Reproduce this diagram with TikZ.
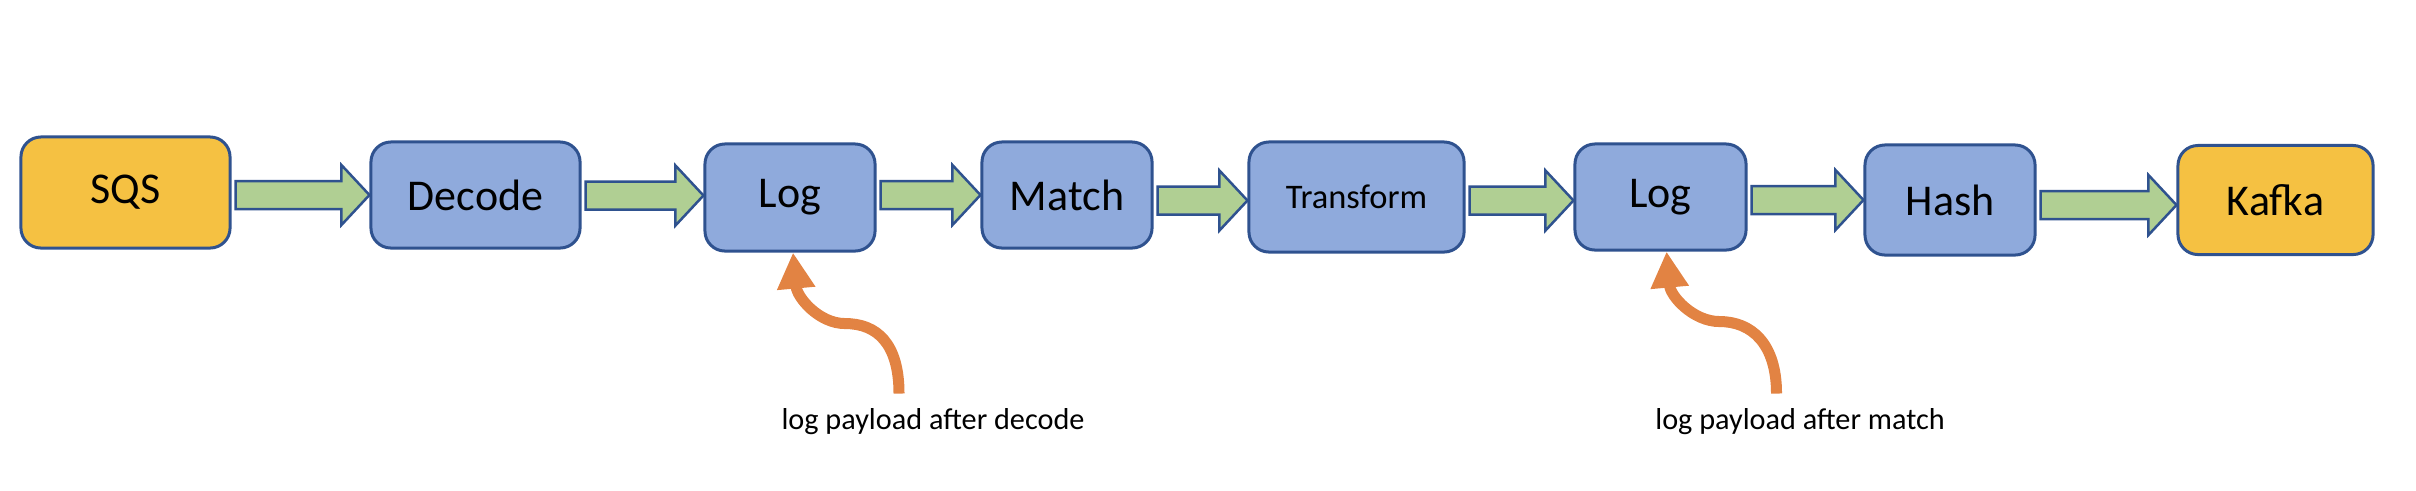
\documentclass[tikz,border=0pt]{standalone}
\usepackage{fontspec}
\setmainfont{Carlito}
\usepackage{tikz}
\usetikzlibrary{arrows.meta,calc}

\definecolor{stageblue}{HTML}{8FAADC}
\definecolor{edgeblue}{HTML}{2F528F}
\definecolor{endgold}{HTML}{F5C142}
\definecolor{pipegreen}{HTML}{B0CF93}
\definecolor{noteorange}{HTML}{E28343}

\newcommand{\flowpipe}[3]{%
  \coordinate (pt) at ([shift={(0,#3)}]#2.west);
  \coordinate (ps) at ($(#1.east |- pt)+(4,0)$);
  \filldraw[pipe arrow] ($(ps)+(0,-14)$) -- ($(pt)+(-28,-14)$) -- ($(pt)+(-28,-30)$) -- (pt)
    -- ($(pt)+(-28,30)$) -- ($(pt)+(-28,14)$) -- ($(ps)+(0,14)$) -- cycle;
}

\begin{document}
\begin{tikzpicture}[
                    x=0.01cm,
                    y=-0.01cm
                ]
                \tikzstyle{stage}=[draw=edgeblue,line width=0.03cm,fill=stageblue,rounded corners=0.2cm,minimum width=1.7cm,minimum height=1.07cm,font=\fontsize{12.5}{15}\selectfont]
                \tikzstyle{endpoint}=[stage,fill=endgold]
                \tikzstyle{pipe arrow}=[draw=edgeblue,line width=0.025cm,fill=pipegreen,line join=miter]
                \tikzstyle{note arrow}=[draw=noteorange,line width=0.11cm,-{Triangle[width=0.36cm,length=0.36cm]}]
                \tikzstyle{note}=[font=\fontsize{8.6}{10}\selectfont]

                \useasboundingbox (0,0) rectangle (2416,490);

                \node[endpoint] (sqs)       at (125.5,192.5) [minimum width=2.09cm,minimum height=1.11cm] {SQS};
                \node[stage]    (decode)    at (475.5,195)   [minimum width=2.09cm,minimum height=1.06cm] {Decode};
                \node[stage]    (log1)      at (790,197.5)   {Log};
                \node[stage]    (match)     at (1067,195)    [minimum height=1.06cm] {Match};
                \node[stage]    (transform) at (1356.5,197)  [minimum width=2.15cm,minimum height=1.1cm,font=\fontsize{9.8}{12}\selectfont] {Transform};
                \node[stage]    (log2)      at (1660.5,197)  [minimum width=1.71cm,minimum height=1.06cm] {Log};
                \node[stage]    (hash)      at (1950,200)    [minimum height=1.1cm] {Hash};
                \node[endpoint] (kafka)     at (2275.5,200)  [minimum width=1.95cm,minimum height=1.09cm] {Kafka};

                \flowpipe{sqs}{decode}{0}
                \flowpipe{decode}{log1}{-2}
                \flowpipe{log1}{match}{0}
                \flowpipe{match}{transform}{3.5}
                \flowpipe{transform}{log2}{3.5}
                \flowpipe{log2}{hash}{0}
                \flowpipe{hash}{kafka}{5}

                \node[note] (note1) at (933,422)  {log payload after decode};
                \node[note] (note2) at (1800,422) {log payload after match};
                \coordinate (tail1) at ([shift={(109,141)}]log1.south);
                \coordinate (tail2) at ([shift={(116,142)}]log2.south);

                \draw[note arrow] (tail1) .. controls +(0,-50) and +(32,0) .. ++(-54,-70)
                    .. controls +(-26,0) and +(4,45) .. ([xshift=0.03cm]log1.south);
                \draw[note arrow] (tail2) .. controls +(0,-50) and +(32,0) .. ++(-57,-72)
                    .. controls +(-26,0) and +(4,45) .. ([xshift=0.06cm]log2.south);
            \end{tikzpicture}
\end{document}
